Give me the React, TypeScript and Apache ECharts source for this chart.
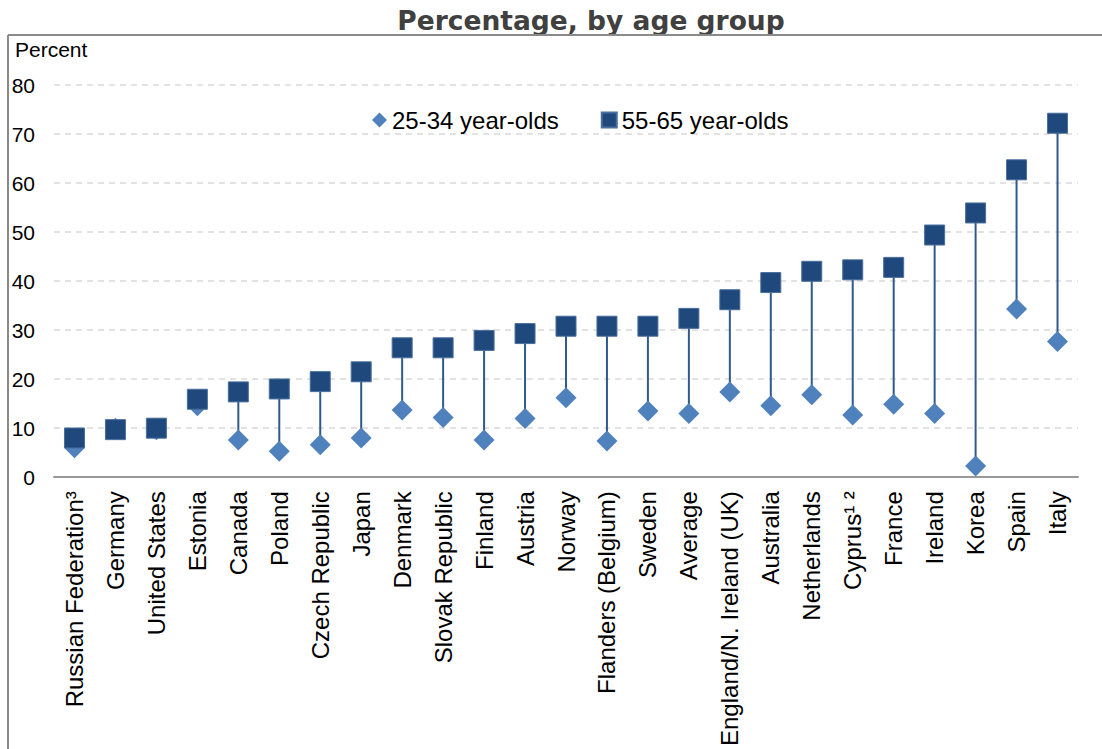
import React, { useEffect, useRef } from "react";
import * as echarts from "echarts";

// Countries, ordered by the share among 55-65 year-olds
const categories = [
  "Russian Federation³",
  "Germany",
  "United States",
  "Estonia",
  "Canada",
  "Poland",
  "Czech Republic",
  "Japan",
  "Denmark",
  "Slovak Republic",
  "Finland",
  "Austria",
  "Norway",
  "Flanders (Belgium)",
  "Sweden",
  "Average",
  "England/N. Ireland (UK)",
  "Australia",
  "Netherlands",
  "Cyprus¹ ²",
  "France",
  "Ireland",
  "Korea",
  "Spain",
  "Italy",
];

// Percentage, 25-34 year-olds
const young = [
  6.0, 10.0, 9.7, 14.6, 7.6, 5.3, 6.6, 8.0, 13.7, 12.2, 7.6, 12.0, 16.2, 7.4,
  13.5, 13.0, 17.4, 14.6, 16.8, 12.7, 14.9, 13.0, 2.3, 34.3, 27.7,
];

// Percentage, 55-65 year-olds
const older = [
  8.0, 9.7, 10.0, 15.9, 17.4, 18.0, 19.5, 21.5, 26.4, 26.4, 27.9, 29.3, 30.8,
  30.8, 30.8, 32.4, 36.2, 39.7, 42.0, 42.3, 42.8, 49.4, 53.9, 62.7, 72.2,
];

const yTicks = { min: 0, max: 80, interval: 10 };

const seriesNames = ["25-34 year-olds", "55-65 year-olds"];

const DARK = "#1f497d";
const LIGHT = "#4f81bd";
const STEM = "#2f5a8c";
const FONT = "'Liberation Sans', Arial, sans-serif";

export default function App() {
  const ref = useRef<HTMLDivElement>(null);

  useEffect(() => {
    if (!ref.current) return;
    const chart = echarts.init(ref.current, undefined, { renderer: "svg" });

    const stems = categories.map((_, i) => [i, young[i], older[i]]);

    chart.setOption({
      animation: false,
      backgroundColor: "#ffffff",
      textStyle: { fontFamily: FONT },
      graphic: [
        {
          type: "text",
          x: 591,
          y: 20,
          style: {
            text: "Percentage, by age group",
            font: "bold 26.5px 'DejaVu Sans', Verdana, sans-serif",
            fill: "#404040",
            align: "center",
            verticalAlign: "middle",
          },
        },
        {
          type: "line",
          shape: { x1: 8, y1: 35, x2: 1102, y2: 35 },
          style: { stroke: "#8a8a8a", lineWidth: 2 },
        },
        {
          type: "line",
          shape: { x1: 8, y1: 35, x2: 8, y2: 749 },
          style: { stroke: "#8a8a8a", lineWidth: 2 },
        },
        {
          type: "text",
          x: 15,
          y: 49,
          style: {
            text: "Percent",
            font: `21px ${FONT}`,
            fill: "#000000",
            align: "left",
            verticalAlign: "middle",
          },
        },
      ],
      legend: {
        left: 372,
        top: 108,
        padding: 0,
        itemWidth: 15,
        itemHeight: 15,
        itemGap: 42,
        textStyle: { fontSize: 24, color: "#000000", fontFamily: FONT },
        data: [
          { name: seriesNames[0], icon: "diamond" },
          { name: seriesNames[1], icon: "rect" },
        ],
      },
      grid: { left: 54, right: 24, top: 85, bottom: 270 },
      xAxis: {
        type: "category",
        data: categories,
        boundaryGap: true,
        axisLine: { lineStyle: { color: "#999999", width: 2 } },
        axisTick: { show: false },
        axisLabel: {
          interval: 0,
          rotate: 90,
          margin: 14,
          fontSize: 24,
          color: "#000000",
          fontFamily: FONT,
        },
      },
      yAxis: {
        type: "value",
        min: yTicks.min,
        max: yTicks.max,
        interval: yTicks.interval,
        axisLine: { show: false },
        axisTick: { show: false },
        axisLabel: {
          margin: 19,
          fontSize: 21,
          color: "#000000",
          fontFamily: FONT,
        },
        splitLine: {
          lineStyle: { color: "#d9d9d9", width: 1.5, type: [6, 5] },
        },
      },
      series: [
        {
          type: "custom",
          name: "stems",
          z: 1,
          silent: true,
          data: stems,
          encode: { x: 0, y: [1, 2] },
          renderItem: (_params: any, api: any) => {
            const a = api.coord([api.value(0), api.value(1)]);
            const b = api.coord([api.value(0), api.value(2)]);
            return {
              type: "line",
              shape: { x1: a[0], y1: a[1], x2: b[0], y2: b[1] },
              style: { stroke: STEM, lineWidth: 2 },
            };
          },
        },
        {
          type: "scatter",
          name: seriesNames[0],
          z: 2,
          symbol: "diamond",
          symbolSize: 21,
          itemStyle: { color: LIGHT, opacity: 1 },
          data: young,
        },
        {
          type: "scatter",
          name: seriesNames[1],
          z: 3,
          symbol: "rect",
          symbolSize: 20,
          itemStyle: {
            color: DARK,
            opacity: 1,
            borderColor: "#4a6f9c",
            borderWidth: 1,
          },
          data: older,
        },
      ],
    });

    return () => chart.dispose();
  }, []);

  return (
    <div
      ref={ref}
      style={{ position: "fixed", left: 0, top: 0, width: 1102, height: 749 }}
    />
  );
}
